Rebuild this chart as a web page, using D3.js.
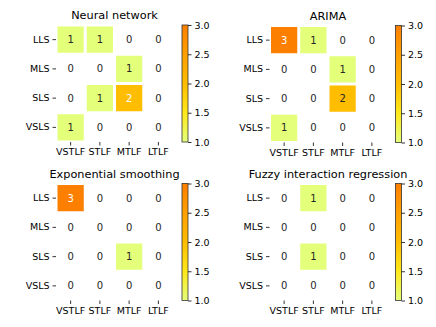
<!DOCTYPE html>
<html lang="en">
<head>
<meta charset="UTF-8">
<title>Forecast heatmaps</title>
<script src="https://d3js.org/d3.v7.min.js"></script>
<style>
    body { margin: 0; background: #fff; }
    svg text { font-family: "DejaVu Sans", sans-serif; fill: #000; }
</style>
</head>
<body>
<div id="chart"></div>
<script>
    const rows = ["LLS", "MLS", "SLS", "VSLS"];
    const cols = ["VSTLF", "STLF", "MTLF", "LTLF"];
    const cbTicks = [1.0, 1.5, 2.0, 2.5, 3.0];

    const neuralNetwork = [[1, 1, 0, 0], [0, 0, 1, 0], [0, 1, 2, 0], [1, 0, 0, 0]];
    const arima = [[3, 1, 0, 0], [0, 0, 1, 0], [0, 0, 2, 0], [1, 0, 0, 0]];
    const expSmoothing = [[3, 0, 0, 0], [0, 0, 0, 0], [0, 0, 1, 0], [0, 0, 0, 0]];
    const fuzzyRegression = [[0, 1, 0, 0], [0, 0, 0, 0], [0, 1, 0, 0], [0, 0, 0, 0]];

    const panels = [
        { title: "Neural network", data: neuralNetwork, x: 56, y: 25, lightFrom: 2 },
        { title: "ARIMA", data: arima, x: 269.5, y: 25.5, lightFrom: 3 },
        { title: "Exponential smoothing", data: expSmoothing, x: 56, y: 183.5, lightFrom: 3 },
        { title: "Fuzzy interaction regression", data: fuzzyRegression, x: 269.5, y: 183.5, lightFrom: 3 }
    ];

    const W = 436, H = 327;
    const size = 117;
    const wistia = ["#e4ff7a", "#ffe81a", "#ffbd00", "#ffa000", "#fc7f00"];
    const color = d3.scaleLinear().domain([1, 1.5, 2, 2.5, 3]).range(wistia);

    const svg = d3.select("#chart").append("svg")
        .attr("width", W).attr("height", H);

    const defs = svg.append("defs");
    const grad = defs.append("linearGradient").attr("id", "cb")
        .attr("x1", 0).attr("y1", 1).attr("x2", 0).attr("y2", 0);
    wistia.forEach((c, i) => grad.append("stop").attr("offset", i / 4).attr("stop-color", c));

    panels.forEach(p => {
        const g = svg.append("g").attr("transform", `translate(${p.x},${p.y})`);
        const x = d3.scaleBand().domain(cols).range([0, size]);
        const y = d3.scaleBand().domain(rows).range([0, size]);

        const cells = [];
        p.data.forEach((r, i) => r.forEach((v, j) => cells.push({ row: rows[i], col: cols[j], v })));

        g.selectAll("rect.cell")
            .data(cells.filter(d => d.v > 0))
            .enter().append("rect")
            .attr("class", "cell")
            .attr("x", d => x(d.col) + 1.5)
            .attr("y", d => y(d.row) + 1.5)
            .attr("width", x.bandwidth() - 3)
            .attr("height", y.bandwidth() - 3)
            .attr("fill", d => color(d.v));

        g.selectAll("text.val")
            .data(cells)
            .enter().append("text")
            .attr("class", "val")
            .attr("x", d => x(d.col) + x.bandwidth() / 2)
            .attr("y", d => y(d.row) + y.bandwidth() / 2)
            .attr("dy", "0.36em")
            .attr("text-anchor", "middle")
            .style("font-size", "10px")
            .style("fill", d => d.v >= p.lightFrom ? "#fff" : "#262626")
            .text(d => d.v);

        const ax = g.append("g").attr("transform", `translate(0,${size})`)
            .call(d3.axisBottom(x).tickSize(3.5).tickPadding(3));
        const ay = g.append("g").call(d3.axisLeft(y).tickSize(3.5).tickPadding(3));
        [ax, ay].forEach(a => {
            a.select(".domain").remove();
            a.selectAll("line").attr("stroke", "#000").attr("stroke-width", 0.8);
            a.selectAll("text").style("font-size", "9.5px").attr("fill", "#000");
        });

        g.append("text")
            .attr("x", size / 2).attr("y", -6)
            .attr("text-anchor", "middle")
            .style("font-size", "11.3px")
            .text(p.title);

        // colorbar
        const cbX = size + 9, cbW = 6;
        const cy = d3.scaleLinear().domain([1, 3]).range([size, 0]);
        const cb = g.append("g").attr("transform", `translate(${cbX},0)`);
        cb.append("rect").attr("width", cbW).attr("height", size).attr("fill", "url(#cb)");
        cb.append("rect").attr("width", cbW).attr("height", size)
            .attr("fill", "none").attr("stroke", "#333").attr("stroke-width", 0.8);
        const ac = cb.append("g").attr("transform", `translate(${cbW},0)`)
            .call(d3.axisRight(cy).tickValues(cbTicks).tickFormat(d3.format(".1f")).tickSize(3.5).tickPadding(3));
        ac.select(".domain").remove();
        ac.selectAll("line").attr("stroke", "#000").attr("stroke-width", 0.8);
        ac.selectAll("text").style("font-size", "9.5px").attr("fill", "#000");
    });
</script>
</body>
</html>
